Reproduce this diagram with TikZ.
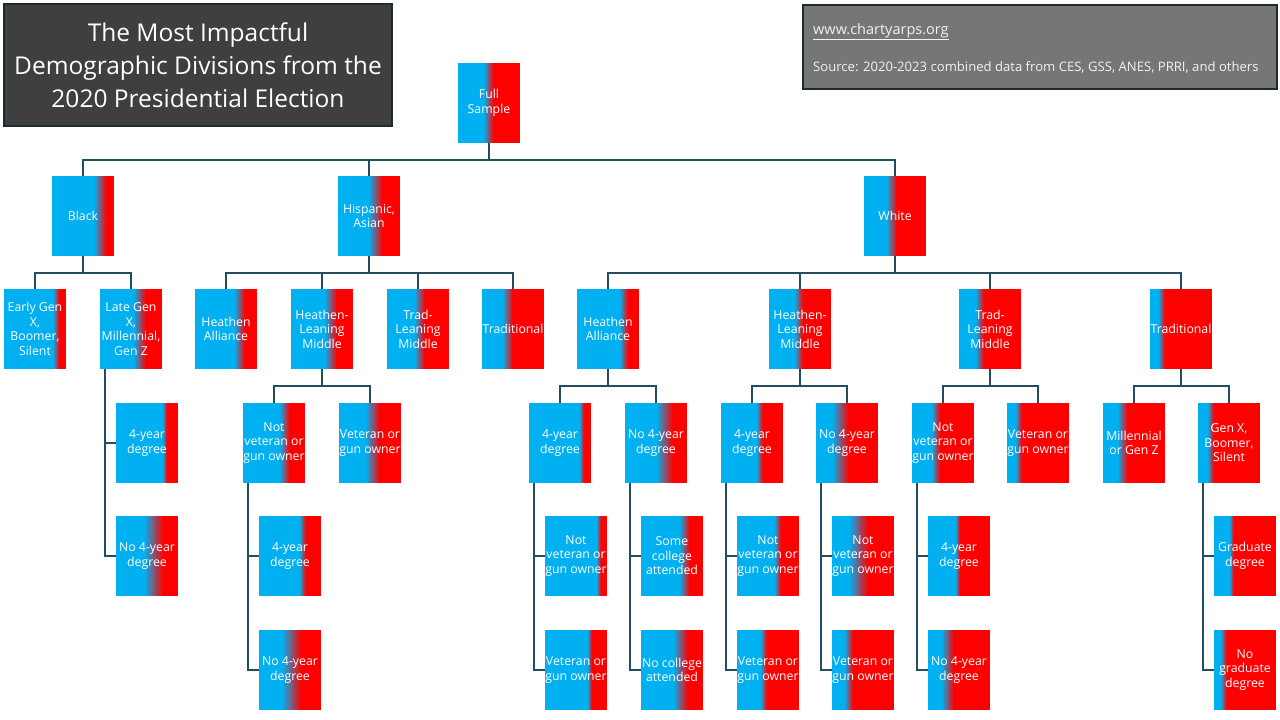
\documentclass[tikz,border=0pt]{standalone}
\usepackage{fontspec}
\setmainfont{Open Sans}
\definecolor{cblue}{HTML}{00B0F0}
\definecolor{cred}{HTML}{FF0000}
\definecolor{cline}{HTML}{234E62}
\definecolor{titlefill}{HTML}{3F3F3F}
\definecolor{infofill}{HTML}{767676}
\definecolor{boxborder}{HTML}{1B2A33}
\definecolor{infotext}{HTML}{F2F2F2}
\tikzset{
  boxtext/.style={inner sep=0pt, minimum width=62pt, minimum height=80pt, align=center,
    text=white, font=\fontsize{12.3}{14.5}\selectfont},
  conn/.style={draw=cline, line width=2.3pt},
}
% #1 name, #2 left x, #3 top y, #4 split x, #5 half width of blend, #6 text
\newcommand\gbx[6]{%
  \fill[cred] (#2,#3) rectangle (#2+62,#3+80);
  \fill[cblue] (#2,#3) rectangle (#4-#5+0.5,#3+80);
  \foreach \k in {0,...,15}{%
    \pgfmathsetmacro\pp{(\k+0.5)*100/16}%
    \fill[cred!\pp!cblue] ({#4-#5+\k*#5/8},#3) rectangle ({#4-#5+(\k+1)*#5/8+0.3},#3+80);
  }
  \node[boxtext] (#1) at (#2+31,#3+40) {#6};
}
\newcommand\busc[2]{\draw[conn] (#1.south) -- ++(0,17) -| (#2.north);}
\newcommand\hangc[2]{\draw[conn] ([xshift=5.5pt]#1.south west) |- (#2.west);}
\begin{document}
\begin{tikzpicture}[x=1pt,y=-1pt]
\useasboundingbox (0,0) rectangle (1280,720);
\fill[white] (0,0) rectangle (1280,720);
% title
\node[draw=boxborder, line width=2pt, fill=titlefill, minimum width=388pt, minimum height=122pt,
  inner sep=0pt, align=center, text=white, font=\fontsize{24.5}{33}\selectfont] (title) at (198,65)
  {The Most Impactful\\Demographic Divisions from the\\2020 Presidential Election};
% info
\node[draw=boxborder, line width=2pt, fill=infofill, minimum width=474pt, minimum height=84pt,
  inner sep=0pt] (info) at (1040,47) {};
\node[anchor=west, inner sep=0pt, text=infotext, font=\fontsize{14.5}{16}\selectfont] (url) at (813,32) {\underline{www.chartyarps.org}};
\node[anchor=west, inner sep=0pt, text=infotext, font=\fontsize{13.1}{15}\selectfont] (src) at (813,67) {Source: 2020-2023 combined data from CES, GSS, ANES, PRRI, and others};
% level 0
\gbx{fs}{458}{63}{489}{5}{Full\\Sample}
% level 1
\gbx{black}{52}{176}{100.5}{6}{Black}
\gbx{hisp}{338}{176}{376}{7}{Hispanic,\\Asian}
\gbx{white}{864}{176}{892}{5}{White}
% level 2
\gbx{bEarly}{4}{289}{56.5}{3}{Early Gen\\X,\\Boomer,\\Silent}
\gbx{bLate}{100}{289}{140}{6}{Late Gen\\X,\\Millennial,\\Gen Z}
\gbx{hHA}{195}{289}{240}{5}{Heathen\\Alliance}
\gbx{hHLM}{291}{289}{331}{6}{Heathen-\\Leaning\\Middle}
\gbx{hTLM}{387}{289}{420}{5}{Trad-\\Leaning\\Middle}
\gbx{hTrad}{482}{289}{508}{5}{Traditional}
\gbx{wHA}{577}{289}{624}{4}{Heathen\\Alliance}
\gbx{wHLM}{769}{289}{799}{4}{Heathen-\\Leaning\\Middle}
\gbx{wTLM}{959}{289}{980}{4}{Trad-\\Leaning\\Middle}
\gbx{wTrad}{1150}{289}{1162}{3}{Traditional}
% level 3
\gbx{b4}{116}{403}{165}{2}{4-year\\degree}
\gbx{bNo4}{116}{516}{154}{9}{No 4-year\\degree}
\gbx{hNV}{243}{403}{285}{5}{Not\\veteran or\\gun owner}
\gbx{hV}{339}{403}{373}{7}{Veteran or\\gun owner}
\gbx{hNV4}{259}{516}{303}{3}{4-year\\degree}
\gbx{hNVNo4}{259}{630}{292}{9}{No 4-year\\degree}
\gbx{wHA4}{529}{403}{582}{2}{4-year\\degree}
\gbx{wHANo4}{625}{403}{665}{8}{No 4-year\\degree}
\gbx{wHLM4}{721}{403}{760}{3}{4-year\\degree}
\gbx{wHLMNo4}{816}{403}{841}{8}{No 4-year\\degree}
\gbx{wTLMNV}{912}{403}{936}{4}{Not\\veteran or\\gun owner}
\gbx{wTLMV}{1007}{403}{1019}{3}{Veteran or\\gun owner}
\gbx{wMil}{1103}{403}{1123}{5}{Millennial\\or Gen Z}
\gbx{wGenX}{1198}{403}{1211}{3}{Gen X,\\Boomer,\\Silent}
% level 4
\gbx{wHA4NV}{545}{516}{599}{2}{Not\\veteran or\\gun owner}
\gbx{wHA4V}{545}{630}{590}{2}{Veteran or\\gun owner}
\gbx{wHANo4S}{641}{516}{685}{5}{Some\\college\\attended}
\gbx{wHANo4N}{641}{630}{681}{7}{No college\\attended}
\gbx{wHLM4NV}{737}{516}{778}{3}{Not\\veteran or\\gun owner}
\gbx{wHLM4V}{737}{630}{764}{3}{Veteran or\\gun owner}
\gbx{wHLMNo4NV}{832}{516}{859}{9}{Not\\veteran or\\gun owner}
\gbx{wHLMNo4V}{832}{630}{849}{4}{Veteran or\\gun owner}
\gbx{wTLMNV4}{928}{516}{958}{2}{4-year\\degree}
\gbx{wTLMNVNo4}{928}{630}{948}{6}{No 4-year\\degree}
\gbx{wGrad}{1214}{516}{1232}{2}{Graduate\\degree}
\gbx{wNoGrad}{1214}{630}{1224}{3}{No\\graduate\\degree}
% connectors
\busc{fs}{black}\busc{fs}{hisp}\busc{fs}{white}
\busc{black}{bEarly}\busc{black}{bLate}
\busc{hisp}{hHA}\busc{hisp}{hHLM}\busc{hisp}{hTLM}\busc{hisp}{hTrad}
\busc{white}{wHA}\busc{white}{wHLM}\busc{white}{wTLM}\busc{white}{wTrad}
\hangc{bLate}{b4}\hangc{bLate}{bNo4}
\busc{hHLM}{hNV}\busc{hHLM}{hV}
\hangc{hNV}{hNV4}\hangc{hNV}{hNVNo4}
\busc{wHA}{wHA4}\busc{wHA}{wHANo4}
\hangc{wHA4}{wHA4NV}\hangc{wHA4}{wHA4V}
\hangc{wHANo4}{wHANo4S}\hangc{wHANo4}{wHANo4N}
\busc{wHLM}{wHLM4}\busc{wHLM}{wHLMNo4}
\hangc{wHLM4}{wHLM4NV}\hangc{wHLM4}{wHLM4V}
\hangc{wHLMNo4}{wHLMNo4NV}\hangc{wHLMNo4}{wHLMNo4V}
\busc{wTLM}{wTLMNV}\busc{wTLM}{wTLMV}
\hangc{wTLMNV}{wTLMNV4}\hangc{wTLMNV}{wTLMNVNo4}
\busc{wTrad}{wMil}\busc{wTrad}{wGenX}
\hangc{wGenX}{wGrad}\hangc{wGenX}{wNoGrad}
\end{tikzpicture}
\end{document}
